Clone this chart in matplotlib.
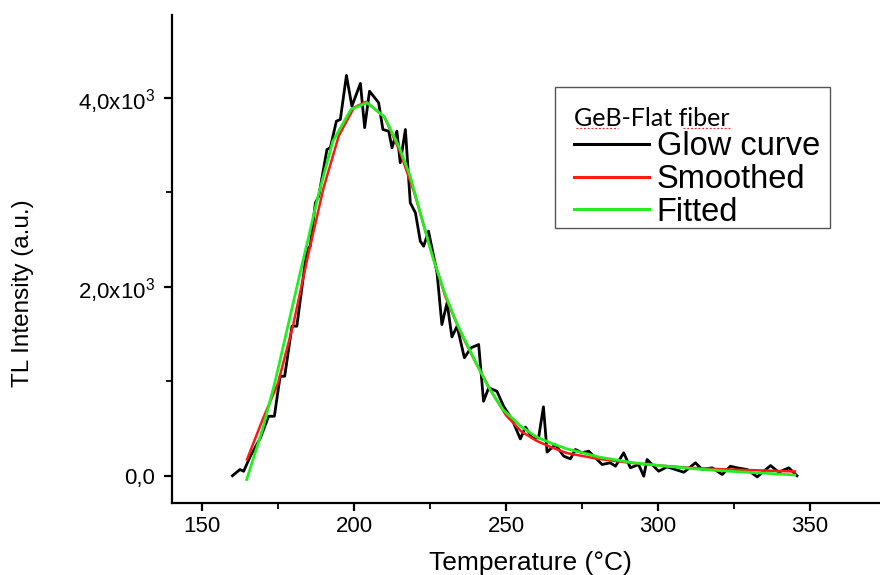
import numpy as np
import matplotlib
matplotlib.use('Agg')
import matplotlib.pyplot as plt
from matplotlib.ticker import MultipleLocator
from matplotlib.lines import Line2D
from matplotlib.patches import Rectangle

plt.rcParams['font.family'] = ['Liberation Sans', 'DejaVu Sans']
plt.rcParams['mathtext.fontset'] = 'custom'
plt.rcParams['mathtext.rm'] = 'Liberation Sans'
plt.rcParams['mathtext.it'] = 'Liberation Sans'

# courbe brute (glow curve)
glow_T = [160.0, 162.5, 163.7, 165.8, 169.2, 171.9, 173.8, 175.7, 177.2, 179.6,
          181.2, 184.5, 185.6, 187.3, 188.4, 191.1, 192.2, 194.2, 195.5, 197.5,
          199.3, 202.1, 203.5, 205.1, 208.1, 209.5, 211.4, 212.5, 214.1, 215.2,
          216.9, 218.5, 220.2, 221.8, 222.9, 224.5, 227.3, 228.9, 230.6, 232.2,
          233.9, 236.3, 238.5, 241.0, 242.6, 244.3, 247.0, 249.2, 252.0, 254.7,
          256.4, 258.6, 260.7, 262.3, 263.5, 266.2, 269.0, 271.2, 272.8, 275.0,
          277.2, 281.6, 284.3, 286.0, 288.7, 290.9, 293.6, 295.3, 296.4, 300.2,
          303.0, 308.5, 312.3, 314.5, 317.8, 321.1, 323.8, 326.0, 329.3, 332.6,
          337.0, 339.7, 343.0, 345.7]
glow_I = [0, 66, 47, 200, 400, 630, 630, 1054, 1054, 1584,
          1584, 2396, 2431, 2890, 2961, 3455, 3473, 3755, 3773, 4239,
          3914, 4155, 3686, 4073, 3950, 3667, 3649, 3473, 3649, 3315,
          3667, 2891, 2785, 2484, 2431, 2590, 2150, 1601, 1832, 1470,
          1584, 1250, 1355, 1390, 789, 931, 895, 736, 595, 390,
          515, 401, 400, 730, 250, 330, 207, 179, 278, 243,
          260, 119, 137, 101, 243, 84, 119, -5, 172, 48,
          94, 37, 137, 66, 84, 13, 101, 84, 66, -12,
          108, 37, 84, 0]

# courbe lissée (rouge)
smooth_T = [164.8, 170, 175, 180, 185, 190, 195, 200, 204, 210, 215, 220, 225,
            230, 235, 240, 245, 250, 255, 260, 265, 270, 275, 280, 290, 300,
            310, 320, 330, 340, 345]
smooth_I = [172, 600, 980, 1600, 2350, 3050, 3600, 3900, 3960, 3800, 3440, 2980,
            2420, 1900, 1520, 1200, 900, 640, 470, 370, 300, 240, 210, 180, 140,
            110, 85, 70, 60, 50, 45]

# courbe ajustée (verte)
fit_T = [164.7, 170, 174, 178, 182, 185, 188, 193, 199, 204.3, 210, 215, 218.5,
         222, 226, 230, 234, 239, 244, 249, 255, 260, 266, 270, 275, 281, 292,
         303, 314, 325, 336, 345]
fit_I = [-40, 500, 990, 1550, 2110, 2520, 2940, 3540, 3880, 3950, 3800, 3470,
         3170, 2760, 2300, 1920, 1600, 1270, 950, 700, 520, 410, 330, 285, 245,
         195, 137, 100, 68, 45, 25, 8]

ytick_vals = [0, 2000, 4000]
ytick_txt = ['0,0', '2,0x10$^{3}$', '4,0x10$^{3}$']

fig = plt.figure(figsize=(8.8, 5.75), dpi=100)
ax = fig.add_axes([0.195, 0.125, 0.805, 0.849])

ax.plot(glow_T, glow_I, color='black', lw=2.0, label='Glow curve')
ax.plot(smooth_T, smooth_I, color='#ff1a1a', lw=1.8, label='Smoothed')
ax.plot(fit_T, fit_I, color='#22ee22', lw=2.0, label='Fitted')

ax.set_xlim(140, 373)
ax.set_ylim(-290, 4880)

for s in ['top', 'right']:
    ax.spines[s].set_visible(False)
for s in ['left', 'bottom']:
    ax.spines[s].set_linewidth(1.6)

ax.xaxis.set_major_locator(MultipleLocator(50))
ax.xaxis.set_minor_locator(MultipleLocator(25))
ax.set_yticks(ytick_vals)
ax.set_yticklabels(ytick_txt)
ax.yaxis.set_minor_locator(MultipleLocator(1000))
ax.tick_params(which='major', direction='out', length=6, width=1.6, labelsize=16)
ax.tick_params(axis='y', which='major', pad=6)
ax.tick_params(which='minor', direction='out', length=4, width=1.3)

ax.set_xlabel('Temperature (°C)', fontsize=19, va='center')
ax.xaxis.set_label_coords(0.506, -0.123)
ax.set_ylabel('TL Intensity (a.u.)', fontsize=17.5, va='center')
ax.yaxis.set_label_coords(-0.21, 0.43)

leg = ax.legend(loc='upper left', bbox_to_anchor=(0.541, 0.852), fontsize=23.5,
                title='GeB-Flat fiber', title_fontproperties={'family': 'Lato', 'size': 18},
                frameon=False, handlelength=2.3, handletextpad=0.22, labelspacing=0.05,
                borderpad=0.6, borderaxespad=0, alignment='left')
for h in leg.get_lines():
    h.set_linewidth(2.2)

# cadre de la légende
ax.add_patch(Rectangle((0.5407, 0.5635), 0.3882, 0.289, transform=ax.transAxes,
                       fill=False, edgecolor='#555555', lw=1.0, zorder=5))

# soulignement pointillé rouge (correcteur orthographique) sous "GeB" et "fiber"
fig.canvas.draw()
bb = leg.get_title().get_window_extent()
H = fig.bbox.height
W = fig.bbox.width
yy = (bb.y0 + 2) / H
for a, b in [(0.01, 0.28), (0.70, 1.0)]:
    x0 = (bb.x0 + a * bb.width) / W
    x1 = (bb.x0 + b * bb.width) / W
    fig.add_artist(Line2D([x0, x1], [yy, yy], transform=fig.transFigure,
                          color='#e03030', lw=0.9, ls=(0, (1.5, 1.5))))

plt.savefig('out.png', dpi=100)
